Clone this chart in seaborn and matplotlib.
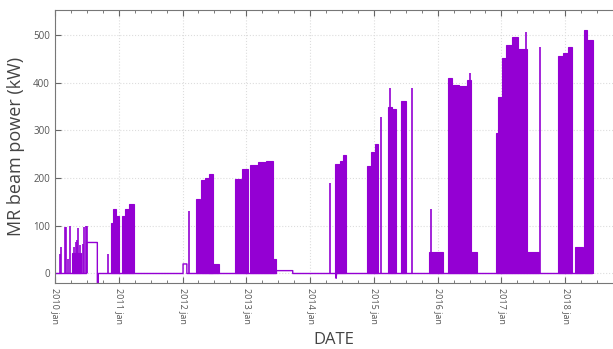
import numpy as np
import pandas as pd
import seaborn as sns
import matplotlib.pyplot as plt

# beam runs (filled blocks): start year, end year, power (kW)
run_start = [2010.272, 2010.875, 2010.905, 2010.950, 2011.057, 2011.102, 2011.162,
             2012.219, 2012.294, 2012.355, 2012.415, 2012.415,
             2012.823, 2012.928, 2013.064, 2013.185, 2013.306, 2013.426,
             2014.392, 2014.468, 2014.513, 2014.891, 2014.951, 2015.011,
             2015.223, 2015.283, 2015.419,
             2015.857, 2016.158, 2016.219, 2016.339, 2016.460, 2016.521,
             2016.913, 2016.943, 2017.004, 2017.079, 2017.170, 2017.260, 2017.396,
             2017.894, 2017.970, 2018.045, 2018.151, 2018.302, 2018.347]
run_end = [2010.408, 2010.905, 2010.950, 2011.011, 2011.102, 2011.162, 2011.238,
           2012.279, 2012.355, 2012.415, 2012.475, 2012.566,
           2012.913, 2013.019, 2013.185, 2013.306, 2013.426, 2013.472,
           2014.468, 2014.513, 2014.558, 2014.951, 2015.011, 2015.072,
           2015.283, 2015.343, 2015.509,
           2016.083, 2016.219, 2016.339, 2016.460, 2016.521, 2016.611,
           2016.943, 2017.004, 2017.079, 2017.170, 2017.260, 2017.396, 2017.592,
           2017.970, 2018.045, 2018.106, 2018.272, 2018.347, 2018.430]
run_power = [42, 105, 135, 120, 120, 135, 146,
             157, 195, 200, 208, 20,
             199, 218, 228, 233, 236, 30,
             230, 236, 248, 225, 255, 272,
             350, 345, 362,
             45, 410, 395, 392, 405, 46,
             295, 370, 452, 478, 495, 470, 45,
             455, 462, 475, 55, 510, 490]

# short spikes: year, power (kW)
spike_t = [2010.075, 2010.098, 2010.158, 2010.174, 2010.211, 2010.242, 2010.302,
           2010.325, 2010.347, 2010.362, 2010.385, 2010.438, 2010.460, 2010.483,
           2010.498, 2010.830, 2012.098, 2014.317, 2015.117, 2015.253, 2015.592,
           2015.902, 2016.506, 2017.381, 2017.608]
spike_p = [40, 55, 98, 97, 30, 100, 55, 65, 70, 95, 60, 62, 97, 99, 100, 40, 130,
           190, 328, 388, 388, 136, 420, 506, 475]

# baseline trace between runs
base_t = [2010.0, 2010.498, 2010.498, 2010.664, 2010.664, 2010.679, 2010.679,
          2012.008, 2012.008, 2012.068, 2012.068, 2013.472, 2013.472, 2013.728,
          2013.728, 2014.400, 2014.408, 2014.416, 2018.430]
base_p = [0, 0, 65, 65, -20, -20, 0,
          0, 20, 20, 0, 0, 6, 6,
          0, 0, -10, 0, 0]

purple = "#9400D3"

sns.set_style("ticks")
plt.rcParams['font.family'] = ['Open Sans', 'DejaVu Sans']

fig = plt.figure(figsize=(6.13, 3.49), dpi=100)
ax = fig.add_axes([0.0897, 0.189, 0.9103, 0.782])

base = pd.DataFrame({"t": base_t, "p": base_p})
sns.lineplot(data=base, x="t", y="p", sort=False, estimator=None, errorbar=None,
             color=purple, lw=1.0, ax=ax)

runs = pd.DataFrame({"s": run_start, "e": run_end, "p": run_power})
ax.bar(runs["s"], runs["p"], width=runs["e"] - runs["s"], align="edge",
       color=purple, edgecolor=purple, linewidth=0.8)
ax.vlines(spike_t, 0, spike_p, color=purple, lw=1.2)

ax.set_xlim(2010, 2018.43)
ax.set_ylim(-20, 552)

years = list(range(2010, 2019))
ax.set_xticks(years)
ax.set_xticklabels([f"{y} jan" for y in years], rotation=-90, fontsize=6.5, color="#555555")
ax.set_xticks([y + q / 4 for y in range(2010, 2019) for q in (1, 2, 3)], minor=True)
ax.set_yticks([0, 100, 200, 300, 400, 500])
ax.tick_params(axis="y", labelsize=7, labelcolor="#555555")
ax.tick_params(which="both", direction="in", top=True, color="#666666")
ax.tick_params(which="major", length=4)
ax.tick_params(which="minor", length=2)
ax.grid(True, which="major", color="#dddddd", linestyle=":", lw=0.8)

for s in ("left", "bottom", "top"):
    ax.spines[s].set_color("#777777")
    ax.spines[s].set_linewidth(0.8)
ax.spines["right"].set_visible(False)

ax.set_xlabel("DATE", fontsize=12, color="#444444", labelpad=6)
ax.set_ylabel("MR beam power (kW)", fontsize=13, color="#444444", labelpad=6)

fig.savefig("out.png", dpi=100)
